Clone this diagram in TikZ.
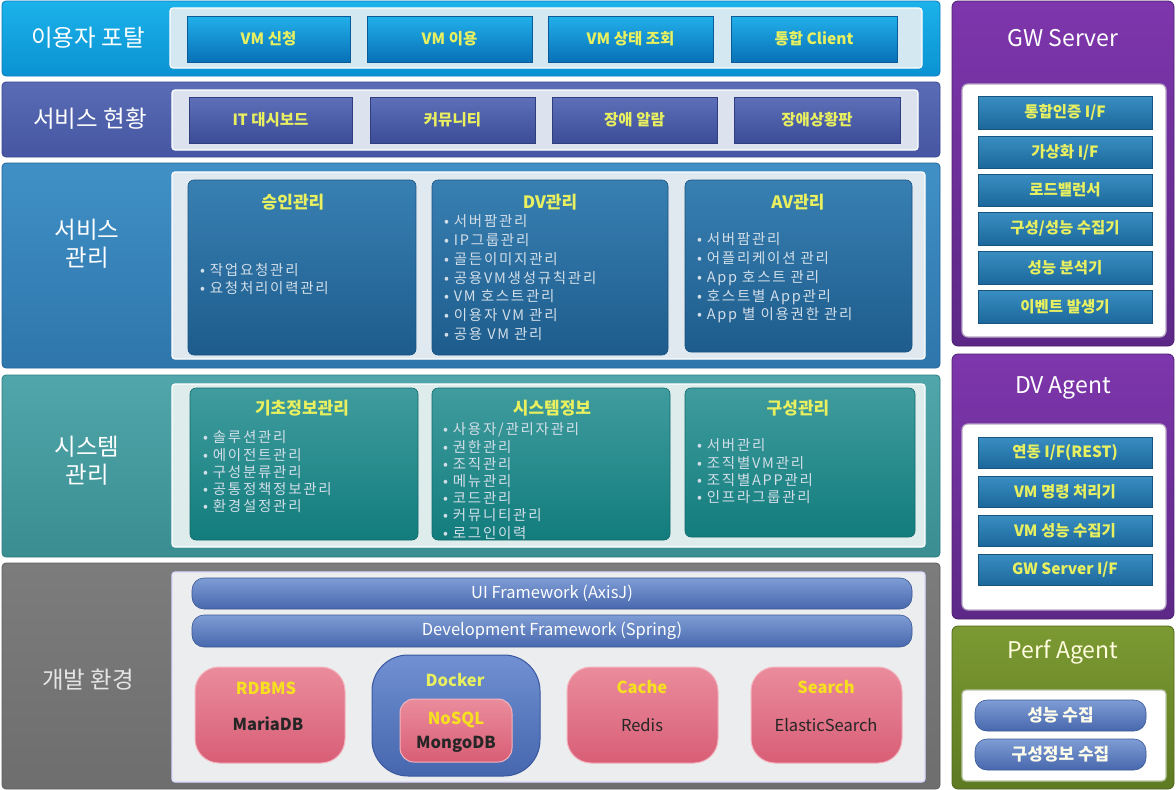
\documentclass[tikz,border=0pt]{standalone}
\usepackage{fontspec}
\setmainfont{Noto Sans CJK KR}
\newfontfamily\listfont[LetterSpace=12]{Noto Sans CJK KR}
\definecolor{Lat}{HTML}{1CB2EA}\definecolor{Lab}{HTML}{0A92D2}\definecolor{Lad}{HTML}{0A7CBC}
\definecolor{Lbt}{HTML}{5A6CB6}\definecolor{Lbb}{HTML}{4656A2}\definecolor{Lbd}{HTML}{3A4890}
\definecolor{Lct}{HTML}{4090C6}\definecolor{Lcb}{HTML}{2E76AC}\definecolor{Lcd}{HTML}{24649A}
\definecolor{Ldt}{HTML}{50A6AA}\definecolor{Ldb}{HTML}{3A8E92}\definecolor{Ldd}{HTML}{2E7C80}
\definecolor{Let}{HTML}{7C7C7C}\definecolor{Leb}{HTML}{6E6E6E}\definecolor{Led}{HTML}{5E5E5E}
\definecolor{Pa}{HTML}{D4E8F2}\definecolor{Pb}{HTML}{DCE3EF}\definecolor{Pc}{HTML}{DFE9EF}
\definecolor{Pd}{HTML}{DFECEC}\definecolor{Pe}{HTML}{ECEDEE}
\definecolor{Bat}{HTML}{22B0EA}\definecolor{Bab}{HTML}{0870B6}\definecolor{Bad}{HTML}{0A5C98}
\definecolor{Bbt}{HTML}{5E70BA}\definecolor{Bbb}{HTML}{3C4C96}\definecolor{Bbd}{HTML}{303E80}
\definecolor{Cct}{HTML}{3880B2}\definecolor{Ccb}{HTML}{1D5C8C}\definecolor{Ccd}{HTML}{1A5080}
\definecolor{Cdt}{HTML}{409C9E}\definecolor{Cdb}{HTML}{127C7C}\definecolor{Cdd}{HTML}{106A6C}
\definecolor{Frt}{HTML}{7E9CD4}\definecolor{Frb}{HTML}{4868AE}\definecolor{Frd}{HTML}{3A5896}
\definecolor{Pkt}{HTML}{EA8C9C}\definecolor{Pkb}{HTML}{D85E76}\definecolor{Pkd}{HTML}{F2B4BE}
\definecolor{Dkt}{HTML}{7090D2}\definecolor{Dkb}{HTML}{4666AE}\definecolor{Dkd}{HTML}{3A58A0}
\definecolor{Gpt}{HTML}{7E36AC}\definecolor{Gpb}{HTML}{5C2886}\definecolor{Gpd}{HTML}{4A206E}
\definecolor{Gnt}{HTML}{7C9A32}\definecolor{Gnb}{HTML}{5E7A22}\definecolor{Gnd}{HTML}{4C661A}
\definecolor{Git}{HTML}{3A8EC2}\definecolor{Gib}{HTML}{1C689C}\definecolor{Gid}{HTML}{16557F}
\definecolor{Yt}{HTML}{E8F060}\definecolor{Ytl}{HTML}{F6E020}\definecolor{Bul}{HTML}{D2DEE8}
\newcommand{\mybox}[7]{\node[#1,anchor=north west,minimum width={#5pt-#3pt},minimum height={#6pt-#4pt}] (#2) at (#3,#4) {#7};}
\begin{document}
\begin{tikzpicture}[x=1pt,y=-1pt,
  every node/.style={inner sep=0pt,outer sep=0pt},
  layer/.style={rounded corners=4pt,line width=0.8pt},
  panel/.style={rounded corners=3pt,draw=white,line width=1.2pt},
  btn/.style={line width=0.6pt,text=Yt,font=\bfseries\fontsize{15.5}{18}\selectfont},
  card/.style={rounded corners=6pt,line width=0.6pt},
  lbl/.style={text=white,font=\fontsize{23.5}{28}\selectfont,align=center},
  ctitle/.style={text=Yt,font=\bfseries\fontsize{17}{19}\selectfont},
  blist/.style={text=Bul,align=left,anchor=north west,font=\listfont\fontsize{14.5}{18.7}\selectfont},
  blist2/.style={text=Bul,align=left,anchor=north west,font=\listfont\fontsize{14.5}{17.2}\selectfont},
  fbar/.style={rounded corners=12pt,top color=Frt,bottom color=Frb,draw=Frd,line width=0.6pt,text=white,font=\fontsize{16.5}{18}\selectfont},
  pink/.style={rounded corners=24pt,top color=Pkt,bottom color=Pkb,draw=Pkd,line width=1pt},
  ptitle/.style={text=Ytl,font=\bfseries\fontsize{16.5}{18}\selectfont},
  pname/.style={text=black!85,font=\fontsize{16.5}{18}\selectfont},
  rtitle/.style={text=white,font=\fontsize{23}{26}\selectfont},
  ritem/.style={top color=Git,bottom color=Gib,draw=Gid,line width=0.6pt,text=Yt,font=\bfseries\fontsize{15.5}{18}\selectfont},
  pitem/.style={rounded corners=12pt,top color=Frt,bottom color=Frb,draw=Frd,line width=0.6pt,text=white!92!yellow,font=\bfseries\fontsize{17}{19}\selectfont}]
\useasboundingbox (0,0) rectangle (1176,790);
\fill[white] (0,0) rectangle (1176,790);
% ---------- Layer 1: user portal
\mybox{layer,top color=Lat,bottom color=Lab,draw=Lad}{L1}{2}{1}{940}{76}{}
\node[lbl] (L1lbl) at (88,38) {이용자 포탈};
\mybox{panel,fill=Pa}{L1p}{170}{8}{922}{68}{}
\mybox{btn,top color=Bat,bottom color=Bab,draw=Bad}{b11}{187}{16}{350}{62}{VM 신청}
\mybox{btn,top color=Bat,bottom color=Bab,draw=Bad}{b12}{367}{16}{532}{62}{VM 이용}
\mybox{btn,top color=Bat,bottom color=Bab,draw=Bad}{b13}{548}{16}{713}{62}{VM 상태 조회}
\mybox{btn,top color=Bat,bottom color=Bab,draw=Bad}{b14}{731}{16}{897}{62}{통합 Client}
% ---------- Layer 2: service status
\mybox{layer,top color=Lbt,bottom color=Lbb,draw=Lbd}{L2}{2}{82}{940}{157}{}
\node[lbl] (L2lbl) at (90,119) {서비스 현황};
\mybox{panel,fill=Pb}{L2p}{172}{90}{918}{150}{}
\mybox{btn,top color=Bbt,bottom color=Bbb,draw=Bbd}{b21}{189}{97}{352}{143}{IT 대시보드}
\mybox{btn,top color=Bbt,bottom color=Bbb,draw=Bbd}{b22}{370}{97}{535}{143}{커뮤니티}
\mybox{btn,top color=Bbt,bottom color=Bbb,draw=Bbd}{b23}{552}{97}{717}{143}{장애 알람}
\mybox{btn,top color=Bbt,bottom color=Bbb,draw=Bbd}{b24}{734}{97}{900}{143}{장애상황판}
% ---------- Layer 3: service management
\mybox{layer,top color=Lct,bottom color=Lcb,draw=Lcd}{L3}{2}{163}{940}{368}{}
\node[lbl] (L3lbl) at (87,244) {서비스\\관리};
\mybox{panel,fill=Pc}{L3p}{172}{172}{925}{359}{}
\mybox{card,top color=Cct,bottom color=Ccb,draw=Ccd}{c31}{188}{180}{416}{355}{}
\mybox{card,top color=Cct,bottom color=Ccb,draw=Ccd}{c32}{432}{180}{668}{355}{}
\mybox{card,top color=Cct,bottom color=Ccb,draw=Ccd}{c33}{685}{180}{912}{352}{}
\node[ctitle] (t31) at (293,202) {승인관리};
\node[ctitle] (t32) at (550,202) {DV관리};
\node[ctitle] (t33) at (798,202) {AV관리};
\node[blist] (l31) at (200,263) {• 작업요청관리\\• 요청처리이력관리};
\node[blist] (l32) at (444,215) {• 서버팜관리\\• IP그룹관리\\• 골든이미지관리\\• 공용VM생성규칙관리\\• VM 호스트관리\\• 이용자 VM 관리\\• 공용 VM 관리};
\node[blist] (l33) at (697,233) {• 서버팜관리\\• 어플리케이션 관리\\• App 호스트 관리\\• 호스트별 App관리\\• App 별 이용권한 관리};
% ---------- Layer 4: system management
\mybox{layer,top color=Ldt,bottom color=Ldb,draw=Ldd}{L4}{2}{375}{940}{557}{}
\node[lbl] (L4lbl) at (87,461) {시스템\\관리};
\mybox{panel,fill=Pd}{L4p}{172}{384}{925}{547}{}
\mybox{card,top color=Cdt,bottom color=Cdb,draw=Cdd}{c41}{190}{388}{418}{540}{}
\mybox{card,top color=Cdt,bottom color=Cdb,draw=Cdd}{c42}{432}{388}{670}{540}{}
\mybox{card,top color=Cdt,bottom color=Cdb,draw=Cdd}{c43}{685}{388}{915}{537}{}
\node[ctitle] (t41) at (302,408) {기초정보관리};
\node[ctitle] (t42) at (552,408) {시스템정보};
\node[ctitle] (t43) at (798,408) {구성관리};
\node[blist2] (l41) at (203,431) {• 솔루션관리\\• 에이전트관리\\• 구성분류관리\\• 공통정책정보관리\\• 환경설정관리};
\begin{scope}
\clip[rounded corners=6pt] (432,388) rectangle (670,540);
\node[blist2] (l42) at (443,423) {• 사용자/관리자관리\\• 권한관리\\• 조직관리\\• 메뉴관리\\• 코드관리\\• 커뮤니티관리\\• 로그인이력};
\end{scope}
\node[blist2] (l43) at (697,439) {• 서버관리\\• 조직별VM관리\\• 조직별APP관리\\• 인프라그룹관리};
% ---------- Layer 5: development environment
\mybox{layer,top color=Let,bottom color=Leb,draw=Led}{L5}{2}{563}{940}{789}{}
\node[lbl,text=white!90!black] (L5lbl) at (88,680) {개발 환경};
\mybox{panel,fill=Pe,draw=white!85!blue}{L5p}{172}{572}{925}{782}{}
\mybox{fbar}{ui}{192}{578}{912}{609}{UI Framework (AxisJ)}
\mybox{fbar}{dev}{192}{615}{912}{647}{Development Framework (Spring)}
\mybox{pink}{rdb}{195}{667}{345}{763}{}
\node[ptitle] (rdbt) at (266,688) {RDBMS};
\node[pname,font=\bfseries\fontsize{16.5}{18}\selectfont] (rdbn) at (268,724) {MariaDB};
\mybox{rounded corners=36pt,top color=Dkt,bottom color=Dkb,draw=Dkd,line width=1pt}{dock}{372}{655}{540}{776}{}
\node[ptitle,text=Yt] (dockt) at (455,680) {Docker};
\mybox{rounded corners=14pt,top color=Pkt,bottom color=Pkb,draw=Pkd,line width=1pt}{nosql}{400}{699}{512}{762}{}
\node[ptitle] (nosqlt) at (456,720) {NoSQL};
\node[pname,font=\bfseries\fontsize{16.5}{18}\selectfont] (nosqln) at (456,744) {MongoDB};
\mybox{pink}{cache}{567}{667}{718}{763}{}
\node[ptitle] (cachet) at (642,687) {Cache};
\node[pname] (cachen) at (642,725) {Redis};
\mybox{pink}{srch}{751}{667}{902}{763}{}
\node[ptitle] (srcht) at (826,687) {Search};
\node[pname] (srchn) at (826,725) {ElasticSearch};
% ---------- GW Server
\mybox{layer,rounded corners=6pt,top color=Gpt,bottom color=Gpb,draw=Gpd}{gw}{952}{1}{1174}{346}{}
\node[rtitle] (gwt) at (1063,38) {GW Server};
\mybox{panel,rounded corners=6pt,fill=white,draw=Gpd!40}{gwp}{962}{84}{1166}{337}{}
\mybox{ritem}{g1}{978}{96}{1152}{129}{통합인증 I/F}
\mybox{ritem}{g2}{978}{136}{1152}{168}{가상화 I/F}
\mybox{ritem}{g3}{978}{174}{1152}{206}{로드밸런서}
\mybox{ritem}{g4}{978}{212}{1152}{245}{구성/성능 수집기}
\mybox{ritem}{g5}{978}{251}{1152}{284}{성능 분석기}
\mybox{ritem}{g6}{978}{290}{1152}{323}{이벤트 발생기}
% ---------- DV Agent
\mybox{layer,rounded corners=6pt,top color=Gpt,bottom color=Gpb,draw=Gpd}{dva}{952}{354}{1174}{619}{}
\node[rtitle] (dvat) at (1063,388) {DV Agent};
\mybox{panel,rounded corners=6pt,fill=white,draw=Gpd!40}{dvp}{962}{424}{1166}{610}{}
\mybox{ritem}{d1}{978}{437}{1152}{468}{연동 I/F(REST)}
\mybox{ritem}{d2}{978}{476}{1152}{507}{VM 명령 처리기}
\mybox{ritem}{d3}{978}{515}{1152}{546}{VM 성능 수집기}
\mybox{ritem}{d4}{978}{554}{1152}{585}{GW Server I/F}
% ---------- Perf Agent
\mybox{layer,rounded corners=6pt,top color=Gnt,bottom color=Gnb,draw=Gnd}{pa}{952}{626}{1174}{789}{}
\node[rtitle,text=white!88!yellow] (pat) at (1063,652) {Perf Agent};
\mybox{panel,rounded corners=4pt,fill=white,draw=Gnd!40}{pap}{962}{690}{1166}{781}{}
\mybox{pitem}{p1}{975}{700}{1146}{731}{성능 수집}
\mybox{pitem}{p2}{975}{739}{1146}{770}{구성정보 수집}
\end{tikzpicture}
\end{document}
